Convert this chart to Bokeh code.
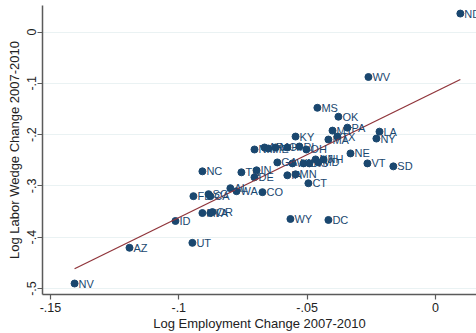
from bokeh.plotting import figure
from bokeh.models import ColumnDataSource, FixedTicker
from bokeh.core.properties import value
from bokeh.embed import file_html
from bokeh.resources import INLINE

# State-level changes, 2007-2010
states = ["ND", "WV", "MS", "OK", "KY", "MT", "PA", "LA", "NY", "MA", "TX",
          "NE", "VT", "SD", "NM", "AR", "ME", "MO", "HI", "RI", "OH", "GA",
          "WI", "IL", "KS", "NJ", "MD", "NH", "IA", "MN", "CT", "NC", "TN",
          "IN", "DE", "AL", "WA", "CO", "FL", "SC", "CA", "MI", "VA", "OR",
          "ID", "AZ", "UT", "NV", "WY", "DC"]
emp_change = [0.0097, -0.0261, -0.0460, -0.0378, -0.0545, -0.0401, -0.0343,
              -0.0218, -0.0230, -0.0417, -0.0382, -0.0331, -0.0265, -0.0164,
              -0.0705, -0.0666, -0.0651, -0.0623, -0.0577, -0.0530, -0.0503,
              -0.0616, -0.0557, -0.0514, -0.0491, -0.0467, -0.0456, -0.0436,
              -0.0577, -0.0545, -0.0495, -0.0908, -0.0756, -0.0697, -0.0705,
              -0.0799, -0.0775, -0.0674, -0.0943, -0.0884, -0.0877, -0.0908,
              -0.0877, -0.0869, -0.1013, -0.1192, -0.0947, -0.1406, -0.0565,
              -0.0417]
wedge_change = [0.036, -0.0877, -0.1477, -0.1651, -0.2038, -0.1922, -0.1864,
                -0.1942, -0.2077, -0.2096, -0.2038, -0.2367, -0.2561, -0.2619,
                -0.2290, -0.2251, -0.2271, -0.2251, -0.2251, -0.2232, -0.2290,
                -0.2542, -0.2561, -0.2561, -0.2561, -0.2484, -0.2542, -0.2484,
                -0.2793, -0.2774, -0.2948, -0.2716, -0.2735, -0.2696, -0.2832,
                -0.3045, -0.3103, -0.3122, -0.3200, -0.3161, -0.3200, -0.3529,
                -0.3529, -0.3510, -0.3684, -0.4206, -0.4110, -0.4903, -0.3645,
                -0.3664]

# fitted line (wedge = intercept + slope * employment)
fit_slope = 2.454
fit_intercept = -0.1164

x_ticks = [-0.15, -0.1, -0.05, 0.0]
x_tick_labels = ["-.15", "-.1", "-.05", "0"]
y_ticks = [-0.5, -0.4, -0.3, -0.2, -0.1, 0.0]
y_tick_labels = ["-.5", "-.4", "-.3", "-.2", "-.1", "0"]

NAVY = "#1a476f"
MAROON = "#90353b"
FONT = "Liberation Sans"

src = ColumnDataSource(dict(x=emp_change, y=wedge_change, st=states))

# fit drawn over the observed range of employment changes
fx = [min(emp_change), max(emp_change)]
fy = [fit_intercept + fit_slope * v for v in fx]

p = figure(width=476, height=333, output_backend="svg", toolbar_location=None,
           x_range=(-0.1531, 0.0160), y_range=(-0.5117, 0.0517),
           min_border_left=42, min_border_right=0, min_border_top=5,
           min_border_bottom=37)
p.outline_line_color = None
p.background_fill_color = "white"
p.border_fill_color = "white"

p.xgrid.visible = False
p.ygrid.ticker = FixedTicker(ticks=y_ticks)
p.ygrid.grid_line_color = "#eaf2f3"
p.ygrid.grid_line_width = 1

for ax in (p.xaxis[0], p.yaxis[0]):
    ax.axis_line_color = "#5a5a5a"
    ax.axis_line_width = 1.5
    ax.major_tick_line_color = "#5a5a5a"
    ax.major_tick_line_width = 1.2
    ax.major_tick_out = 5
    ax.major_tick_in = 0
    ax.minor_tick_line_color = None
    ax.major_label_text_font = FONT
    ax.major_label_text_font_size = "12.5px"
    ax.major_label_text_color = "#222222"
    ax.axis_label_text_font = FONT
    ax.axis_label_text_font_size = "13px"
    ax.axis_label_text_font_style = "normal"
    ax.axis_label_text_color = "#222222"

p.xaxis.ticker = FixedTicker(ticks=x_ticks)
p.xaxis.major_label_overrides = dict(zip(x_ticks, x_tick_labels))
p.yaxis.ticker = FixedTicker(ticks=y_ticks)
p.yaxis.major_label_overrides = dict(zip(y_ticks, y_tick_labels))
p.yaxis.major_label_orientation = "vertical"
p.xaxis.axis_label = "Log Employment Change 2007-2010"
p.yaxis.axis_label = "Log Labor Wedge Change 2007-2010"
p.xaxis.major_label_standoff = 3
p.xaxis.axis_label_standoff = 1
p.yaxis.major_label_standoff = 1
p.yaxis.axis_label_standoff = 3

p.scatter("x", "y", source=src, size=7, fill_color=NAVY, line_color=NAVY)
p.line(fx, fy, line_color=MAROON, line_width=1.3)

# state abbreviations to the right of each marker
p.text("x", "y", text="st", source=src, x_offset=4, y_offset=0,
       text_baseline="middle", text_align="left",
       text_font=value(FONT), text_font_size="11px", text_color=NAVY)

open("out.html", "w").write(file_html(p, INLINE))
